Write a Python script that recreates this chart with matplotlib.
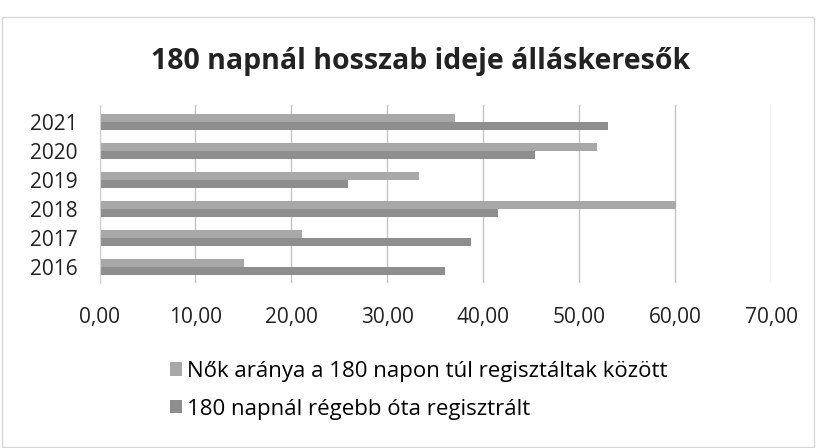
import matplotlib
matplotlib.use("Agg")
import matplotlib.pyplot as plt
import numpy as np

years = ["2016", "2017", "2018", "2019", "2020", "2021"]
nok_aranya = [15.1, 21.1, 60.1, 33.3, 51.8, 37.1]
regebb = [36.0, 38.7, 41.5, 25.9, 45.4, 53.0]
xticks = [0, 10, 20, 30, 40, 50, 60, 70]
title = "180 napnál hosszab ideje álláskeresők"
labels = ["Nők aránya a 180 napon túl regisztáltak között",
          "180 napnál régebb óta regisztrált"]

plt.rcParams['font.family'] = ['Open Sans', 'DejaVu Sans']

fig = plt.figure(figsize=(8.16, 4.48), dpi=100)
ax = fig.add_axes([0.122, 0.368, 0.823, 0.398])

y = np.arange(len(years))
h = 0.27
b1 = ax.barh(y + h / 2, nok_aranya, height=h, color="#a8a8a8", label=labels[0], zorder=2)
b2 = ax.barh(y - h / 2, regebb, height=h, color="#8e8e8e", label=labels[1], zorder=2)

ax.set_xlim(0, 70)
ax.set_ylim(-0.55, 5.6)
ax.set_xticks(xticks)
ax.set_xticklabels([f"{v:.2f}".replace(".", ",") for v in xticks], fontsize=15, color="#222222")
ax.set_yticks(y)
ax.set_yticklabels(years, fontsize=15, color="#222222")
ax.tick_params(axis="x", length=0, pad=17)
ax.tick_params(axis="y", length=0, pad=16)
ax.grid(axis="x", color="#c4c4c4", linewidth=1, zorder=0)
for s in ["top", "right", "bottom"]:
    ax.spines[s].set_visible(False)
ax.spines["left"].set_color("#d0d0d0")

fig.text(0.515, 0.862, title, ha="center", va="center", fontsize=20.5, fontweight="bold", color="#222222")

fig.legend(handles=[b1, b2], labels=labels, loc="center", bbox_to_anchor=(0.513, 0.129),
           frameon=False, fontsize=16, handlelength=0.55, handleheight=0.55, handletextpad=0.2,
           labelspacing=0.75, borderpad=0, borderaxespad=0)

fig.patches.append(plt.Rectangle((0.003, 0.003), 0.994, 0.96, transform=fig.transFigure,
                                 fill=False, edgecolor="#d8d8d8", linewidth=1))
fig.savefig("out.png", dpi=100)
